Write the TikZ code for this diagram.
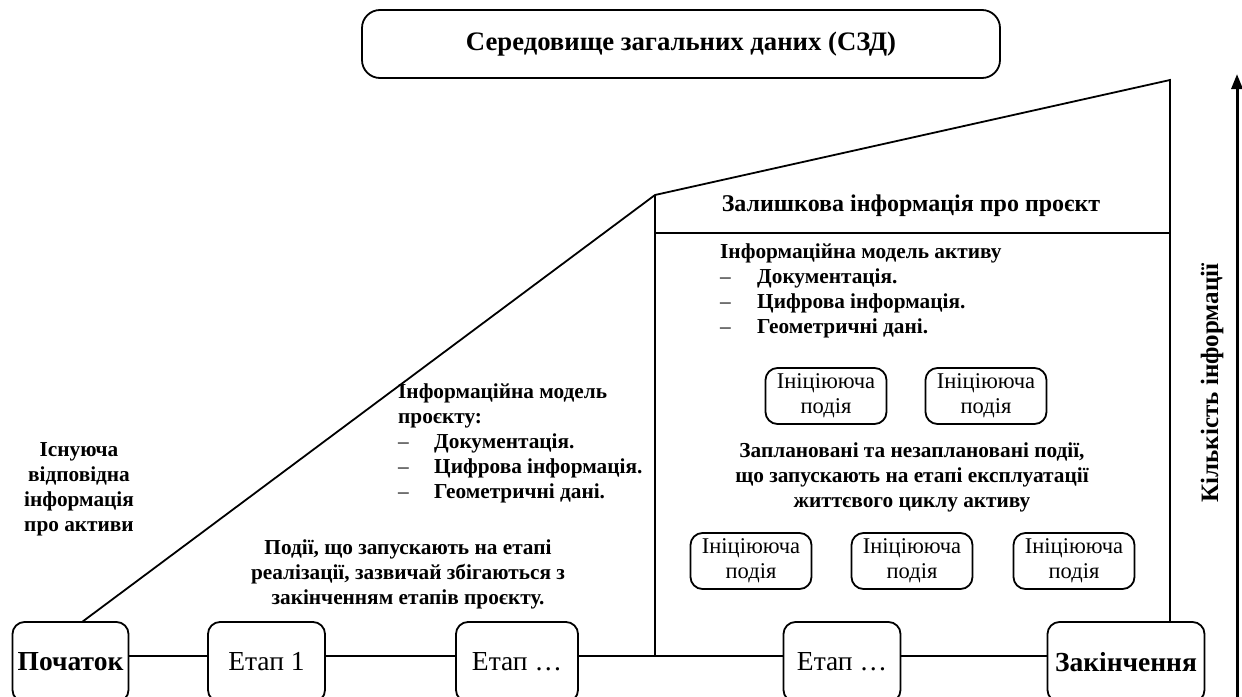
\documentclass[tikz,border=0pt]{standalone}
\usepackage{fontspec}
\setmainfont{Liberation Serif}
\usetikzlibrary{arrows.meta,calc}
\begin{document}
\begin{tikzpicture}[x=1pt,y=-1pt,
  every node/.style={inner sep=0pt},
  box/.style={draw,line width=1.8pt,rounded corners=12pt,align=center},
  stagebox/.style={box,minimum width=117pt,minimum height=80pt,font=\fontsize{27.5}{30}\selectfont},
  eventbox/.style={box,minimum width=121pt,minimum height=56pt,font=\fontsize{22.5}{25}\selectfont},
  txt/.style={font=\bfseries\fontsize{21.3}{25}\selectfont,align=center},
  ltxt/.style={font=\bfseries\fontsize{21.3}{25}\selectfont,align=left},
  ln/.style={line width=1.8pt}]
\path[use as bounding box] (0,0) rectangle (1242,696);
\clip (0,0) rectangle (1242,696);

% title
\node[box,minimum width=638pt,minimum height=68pt,rounded corners=18pt,font=\bfseries\fontsize{26.7}{30}\selectfont] (cde) at (681,44) {Середовище загальних даних (СЗД)};

% stages
\node[stagebox,minimum width=116pt,font=\bfseries\fontsize{27.5}{30}\selectfont] (start) at (70.5,662) {Початок};
\node[stagebox] (s1) at (266.5,662) {Етап 1};
\node[stagebox,minimum width=122pt] (s2) at (517,662) {Етап …};
\node[stagebox] (s3) at (842,662) {Етап …};
\node[stagebox,minimum width=157pt,font=\bfseries\fontsize{27.5}{30}\selectfont] (end) at (1126,662) {Закінчення};

\coordinate (lineY) at (0,656);
\coordinate (c1) at (655,656);
\coordinate (slA) at (82,622);
\coordinate (p1) at (655,195);
\coordinate (p2) at (1170,80);
\coordinate (p3) at (1170,622);
\coordinate (h1) at (655,233);
\coordinate (h2) at (1170,233);

\draw[ln] (start.east |- lineY) -- (s1.west |- lineY);
\draw[ln] (s1.east |- lineY) -- (s2.west |- lineY);
\draw[ln] (s2.east |- lineY) -- (c1) -- (s3.west |- lineY);
\draw[ln] (s3.east |- lineY) -- (end.west |- lineY);
\draw[ln,line join=miter] (slA) -- (p1) -- (p2) -- (p3);
\draw[ln] (p1) -- (c1);
\draw[ln] (h1) -- (h2);

% texts left
\node[txt] (exist) at (79,489) {Існуюча\\відповідна\\інформація\\про активи};
\node[ltxt,anchor=north west] (pim) at (398,384) {Інформаційна модель\\проєкту:\\{\mdseries\makebox[36pt][l]{–}}Документація.\\{\mdseries\makebox[36pt][l]{–}}Цифрова інформація.\\{\mdseries\makebox[36pt][l]{–}}Геометричні дані.};
\node[txt] (ev1) at (408,574) {Події, що запускають на етапі\\реалізації, зазвичай збігаються з\\закінченням етапів проєкту.};

% right part
\node[txt,font=\bfseries\fontsize{24}{26}\selectfont] (resid) at (911,206) {Залишкова інформація про проєкт};
\node[ltxt,anchor=north west] (aim) at (720,244) {Інформаційна модель активу\\{\mdseries\makebox[37pt][l]{–}}Документація.\\{\mdseries\makebox[37pt][l]{–}}Цифрова інформація.\\{\mdseries\makebox[37pt][l]{–}}Геометричні дані.};

\node[eventbox] (e1) at (826,396) {Ініціююча\\подія};
\node[eventbox] (e2) at (986,396) {Ініціююча\\подія};
\node[txt] (ev2) at (912,477) {Заплановані та незаплановані події,\\що запускають на етапі експлуатації\\життєвого циклу активу};
\node[eventbox] (e3) at (751,561) {Ініціююча\\подія};
\node[eventbox] (e4) at (912,561) {Ініціююча\\подія};
\node[eventbox] (e5) at (1074,561) {Ініціююча\\подія};

% axis arrow
\coordinate (axB) at (1237,700);
\coordinate (axT) at (1237,74);
\draw[line width=3pt,-{Triangle[length=15pt,width=11pt]}] (axB) -- (axT);
\node[txt,font=\bfseries\fontsize{25}{28}\selectfont,rotate=90] (qty) at (1212,383) {Кількість інформації};
\end{tikzpicture}
\end{document}
